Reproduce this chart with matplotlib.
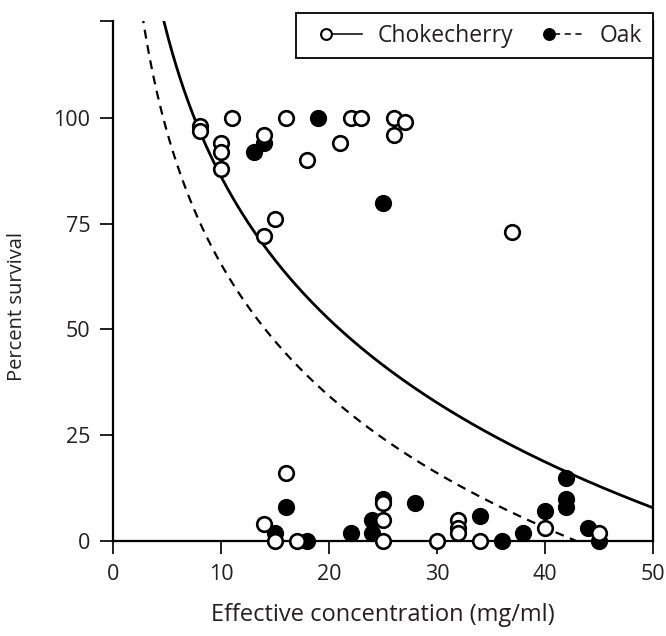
import numpy as np
import matplotlib.pyplot as plt
from matplotlib.lines import Line2D
from matplotlib.legend_handler import HandlerBase

plt.rcParams["font.family"] = "Open Sans"

# chokecherry (open circles)
choke_x = [8, 8, 11, 10, 10, 10, 14, 16, 22, 23, 21, 18, 26, 27, 26, 15, 14, 37,
           16, 14, 15, 17, 25, 25, 25, 30, 32, 32, 32, 34, 40, 45]
choke_y = [98, 97, 100, 94, 92, 88, 96, 100, 100, 100, 94, 90, 100, 99, 96, 76, 72, 73,
           16, 4, 0, 0, 9, 5, 0, 0, 5, 3, 2, 0, 3, 2]

# oak (filled circles)
oak_x = [13, 14, 19, 25, 16, 15, 18, 22, 24, 24, 25, 28, 34, 36, 38, 40, 42, 42, 42, 44, 45]
oak_y = [92, 94, 100, 80, 8, 2, 0, 2, 5, 2, 10, 9, 6, 0, 2, 7, 15, 10, 8, 3, 0]

# fitted survival curves: y = a - b * ln(x)
choke_fit = (198.0, 48.6)
oak_fit = (168.8, 44.9)

x_ticks = [0, 10, 20, 30, 40, 50]
y_ticks = [0, 25, 50, 75, 100, 123]
y_ticklabels = ["0", "25", "50", "75", "100", ""]

OAK_DASH = (0, (4, 3))


class MarkerLineHandler(HandlerBase):
    # circle first, then the line: "o---"
    def __init__(self, ls):
        super().__init__()
        self.ls = ls

    def create_artists(self, legend, orig, xdescent, ydescent, width, height,
                       fontsize, trans):
        y = height / 2 - ydescent
        xm = -xdescent + 0.36 * width
        ms = 7.8
        line = Line2D([xm + ms / 2, -xdescent + width], [y, y], color="black",
                      lw=1.1, linestyle=self.ls, transform=trans)
        dot = Line2D([xm], [y], ls="none", marker="o", ms=ms, mew=1.5,
                     mfc=orig.get_markerfacecolor(), mec="black", transform=trans)
        return [line, dot]


fig = plt.figure(figsize=(6.66, 6.36), dpi=100)
ax = fig.add_axes([0.1701, 0.1494, 0.8099, 0.8181])

xs = np.linspace(0.5, 50, 400)
ax.plot(xs, choke_fit[0] - choke_fit[1] * np.log(xs), color="black", lw=2.0, zorder=2)
ax.plot(xs, oak_fit[0] - oak_fit[1] * np.log(xs), color="black", lw=1.6,
        linestyle=OAK_DASH, zorder=2)

ax.plot(oak_x, oak_y, ls="none", marker="o", ms=10.5, mew=1.9, mfc="black",
        mec="black", clip_on=False, zorder=4)
ax.plot(choke_x, choke_y, ls="none", marker="o", ms=10.5, mew=1.9, mfc="white",
        mec="black", clip_on=False, zorder=5)

ax.set_xlim(0, 50)
ax.set_ylim(0, 123)
ax.set_xticks(x_ticks)
ax.set_yticks(y_ticks, labels=y_ticklabels)
ax.tick_params(direction="out", length=9.5, width=1.4, labelsize=15.5, pad=7,
               colors="#231f20")
ax.tick_params(axis="y", right=False)

ax.spines["top"].set_visible(False)
for s in ["left", "bottom", "right"]:
    ax.spines[s].set_linewidth(1.6)

ax.set_xlabel("Effective concentration (mg/ml)", fontsize=17, labelpad=13,
              color="#231f20")
ax.set_ylabel("Percent survival", fontsize=14.5, color="#231f20")
ax.yaxis.set_label_coords(-0.16, 0.45)

h_choke = Line2D([], [], marker="o", mfc="white", color="black")
h_oak = Line2D([], [], marker="o", mfc="black", color="black")
leg = ax.legend([h_choke, h_oak], ["Chokecherry", "Oak"], ncol=2,
                handler_map={h_choke: MarkerLineHandler("-"),
                             h_oak: MarkerLineHandler(OAK_DASH)},
                loc="upper right", bbox_to_anchor=(652.5 / 666, 1 - 13.3 / 636),
                bbox_transform=fig.transFigure, borderaxespad=0, fontsize=16.5,
                handlelength=2.4, handletextpad=0.7, columnspacing=0.68,
                borderpad=0.45, fancybox=False, framealpha=1, edgecolor="black")
leg.get_frame().set_linewidth(1.3)
leg.set_zorder(10)
for t in leg.get_texts():
    t.set_color("#231f20")

fig.savefig("out.png", dpi=100)
